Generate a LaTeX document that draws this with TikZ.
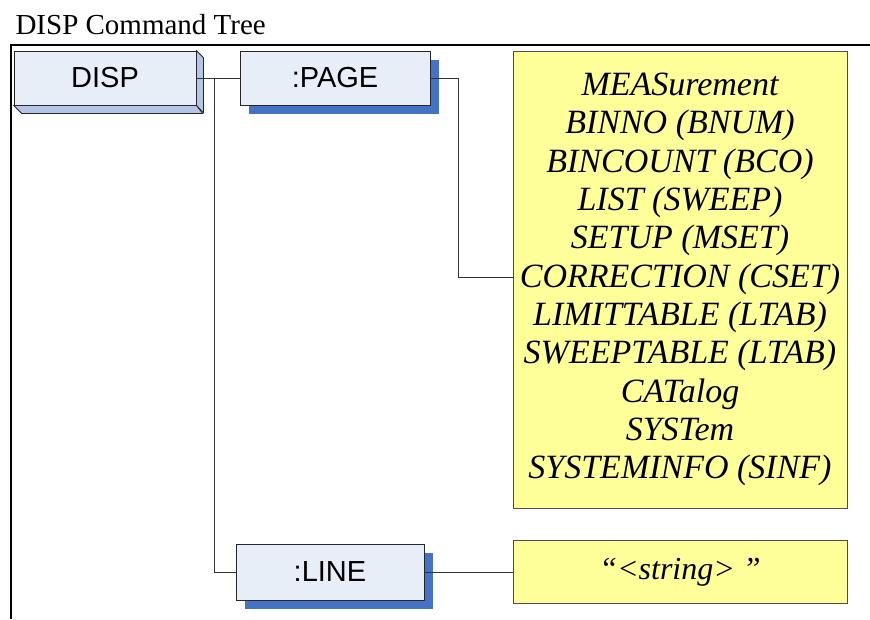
\documentclass[tikz,border=0pt]{standalone}
\usepackage{fontspec}
\setmainfont{Liberation Serif}
\setsansfont{Liberation Sans}
\usetikzlibrary{shadows}

\definecolor{paleblue}{HTML}{E8EEF8}
\definecolor{sideblue}{HTML}{B4C6E7}
\definecolor{deepblue}{HTML}{4472C4}
\definecolor{paleyellow}{HTML}{FFFF99}

\tikzset{
  cmd/.style={draw=black!85, fill=paleblue, line width=0.8pt, inner sep=0pt,
    font=\sffamily\fontsize{29}{32}\selectfont},
  shadowed/.style={drop shadow={shadow xshift=9pt, shadow yshift=-9pt, fill=deepblue, opacity=1}},
  param/.style={draw=black!70, fill=paleyellow, line width=0.8pt, inner sep=0pt, align=center,
    minimum width=334pt, font=\itshape\fontsize{34}{38.3}\selectfont},
  side/.style={draw=black!85, fill=sideblue, line width=0.8pt},
  link/.style={draw=black!80, line width=0.8pt},
  frame/.style={black, line width=1.6pt}
}

\begin{document}
\begin{tikzpicture}[x=1pt,y=-1pt]
\useasboundingbox (0,0) rectangle (870,619);

\node[anchor=base west, font=\fontsize{29}{32}\selectfont] (title) at (12,34) {DISP Command Tree};
\draw[frame] (10,45) -- (870,45);
\draw[frame] (11,45) -- (11,619);

\node[cmd, minimum width=182pt, minimum height=54pt] (disp) at (105,78) {DISP};
\filldraw[side] (disp.north east) -- ++(7,7) -- ++(0,55) -- (disp.south east) -- cycle;
\filldraw[side] (disp.south west) -- ++(8,8) -- ++(181,0) -- (disp.south east) -- cycle;

\node[cmd, shadowed, minimum width=190pt, minimum height=54pt] (page) at (335,78) {:PAGE};
\node[cmd, shadowed, minimum width=188pt, minimum height=56pt] (line) at (330,572) {:LINE};

\node[param, minimum height=457pt] (list) at (680,279.5) {MEASurement\\BINNO (BNUM)\\BINCOUNT (BCO)\\LIST (SWEEP)\\SETUP (MSET)\\CORRECTION (CSET)\\LIMITTABLE (LTAB)\\SWEEPTABLE (LTAB)\\CATalog\\SYSTem\\SYSTEMINFO (SINF)};
\node[param, minimum height=63pt, font=\itshape\fontsize{32}{36}\selectfont] (str) at (680,572) {“<string> ”};

\coordinate (j1) at (214,78);
\coordinate (j2) at (458,277);
\draw[link] (disp.east) -- (page.west);
\draw[link] (j1) |- (line.west);
\draw[link] (page.east) -| (j2) -- (j2 -| list.west);
\draw[link] (line.east) -- (str.west);

\end{tikzpicture}
\end{document}
